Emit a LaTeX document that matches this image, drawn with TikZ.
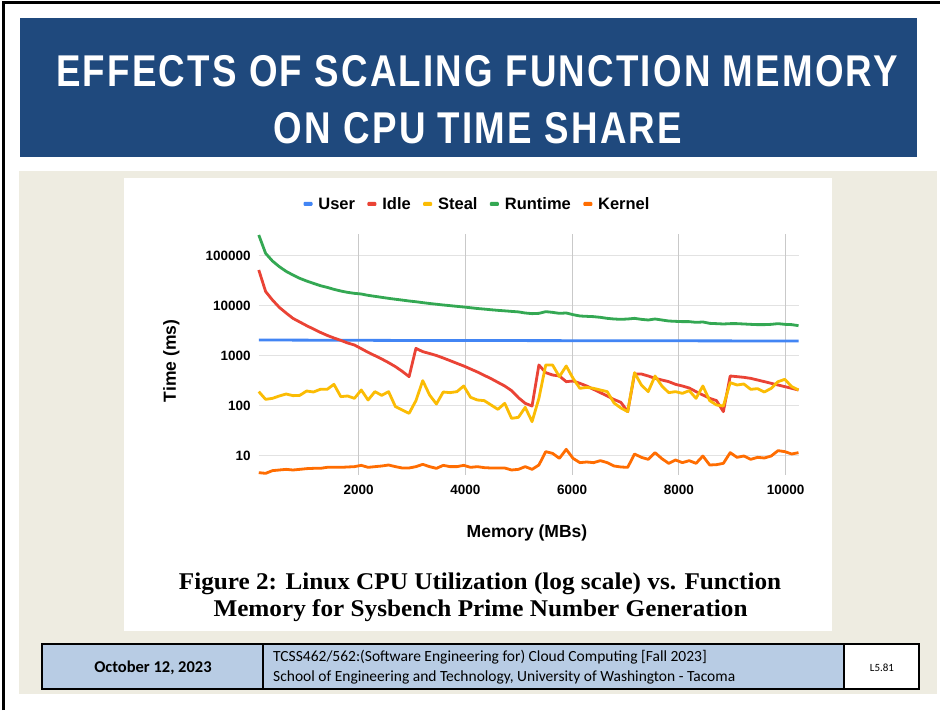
\documentclass[tikz,border=0pt]{standalone}
\usepackage{fontspec}
\usepackage{graphicx}
\usetikzlibrary{positioning}
\newfontfamily\chartfont{Liberation Sans}
\newfontfamily\headfont[LetterSpace=6]{Liberation Sans}
\newfontfamily\capfont{Liberation Serif}
\newfontfamily\footfont{Carlito}

\definecolor{titleblue}{HTML}{1F497D}
\definecolor{slidebeige}{HTML}{EEECE1}
\definecolor{cellblue}{HTML}{B8CCE4}
\definecolor{userblue}{HTML}{4285F4}
\definecolor{idlered}{HTML}{EA4335}
\definecolor{stealyellow}{HTML}{FBBC04}
\definecolor{runtimegreen}{HTML}{34A853}
\definecolor{kernelorange}{HTML}{FF6D01}
\definecolor{gridgray}{HTML}{E2E2E2}

\tikzset{
  series/.style={line width=2.8pt, line join=round},
  legdash/.style={rounded corners=1pt, minimum width=9pt, minimum height=4pt, inner sep=0pt},
  legtext/.style={font=\chartfont\bfseries\fontsize{16.5}{18}\selectfont, inner sep=0pt},
  ticklabel/.style={font=\chartfont\bfseries\fontsize{13.5}{15}\selectfont, inner sep=1pt},
  axistitle/.style={font=\chartfont\bfseries\fontsize{17.5}{19}\selectfont, inner sep=0pt},
  titletext/.style={text=white, font=\headfont\bfseries\fontsize{44.5}{50}\selectfont, inner sep=0pt, anchor=base},
  captext/.style={font=\capfont\bfseries\fontsize{24}{26}\selectfont, inner sep=0pt, anchor=base},
}

\begin{document}
\begin{tikzpicture}[x=1pt,y=1pt]
\useasboundingbox (0,0) rectangle (940,710);
\fill[white] (0,0) rectangle (940,710);

% slide frame and title bar
\draw[black, line width=3pt] (3.5,0) -- (3.5,707) -- (940,707);
\fill[titleblue] (20,553) rectangle (917,692);
\node[titletext] (title1) at (477,623) {\scalebox{0.825}[1]{EFFECTS OF SCALING FUNCTION MEMORY}};
\node[titletext] (title2) at (478,566) {\scalebox{0.825}[1]{ON CPU TIME SHARE}};

% content area
\fill[slidebeige] (19,16) rectangle (937,539);
\fill[white] (124,79) rectangle (832,532);

% legend
\node[legdash, fill=userblue] (duser) at (308,506) {};
\node[legtext, right=5.5pt of duser] (tuser) {User};
\node[legdash, fill=idlered, right=12pt of tuser] (didle) {};
\node[legtext, right=5.5pt of didle] (tidle) {Idle};
\node[legdash, fill=stealyellow, right=12pt of tidle] (dsteal) {};
\node[legtext, right=5.5pt of dsteal] (tsteal) {Steal};
\node[legdash, fill=runtimegreen, right=12pt of tsteal] (druntime) {};
\node[legtext, right=5.5pt of druntime] (truntime) {Runtime};
\node[legdash, fill=kernelorange, right=12pt of truntime] (dkernel) {};
\node[legtext, right=5.5pt of dkernel] (tkernel) {Kernel};

% chart: x in MB, y in log10(ms)
\begin{scope}[shift={(251.95,204.5)}, x=0.053375pt, y=50pt]
\foreach \k in {1,...,5}
  \draw[gridgray, line width=1pt] (128,\k) -- (10240,\k);
\foreach \m in {2000,4000,...,10000}
  \draw[gridgray!75!gray, line width=1pt] (\m,0.61) -- (\m,5.42);

\foreach \k/\t in {1/10,2/100,3/1000,4/10000,5/100000}
  \node[ticklabel, anchor=east] (ylab\k) at (0,\k) {\t};
\foreach \m in {2000,4000,...,10000}
  \node[ticklabel] (xlab\m) at (\m,0.31) {\m};

\node[axistitle] (xtitle) at (5153,-0.55) {Memory (MBs)};
\node[axistitle, rotate=90] (ytitle) at (-1509,2.89) {Time (ms)};

%User
\draw[series, userblue] (128,3.31) -- (2560,3.302) -- (10240,3.29);
%Idle
\draw[series, idlered] (128,4.71) \foreach \v [count=\i from 2] in {4.28,4.11,3.963,3.85,3.743,3.67,3.597,3.53,3.463,
  3.403,3.35,3.303,3.25,3.21,3.137,3.063,2.997,2.93,2.857,
  2.777,2.683,2.577,3.143,3.077,3.04,3.0,2.95,2.897,2.843,
  2.79,2.73,2.67,2.603,2.537,2.463,2.39,2.297,2.157,2.043,
  1.99,2.81,2.657,2.61,2.59,2.477,2.49,2.443,2.39,2.323,
  2.257,2.19,2.12,2.063,1.877,2.63,2.63,2.59,2.543,2.51,
  2.477,2.423,2.39,2.35,2.277,2.21,2.143,2.097,1.877,2.59,
  2.577,2.563,2.543,2.51,2.477,2.443,2.41,2.377,2.343,2.31} { -- (\i*128,\v) };
%Steal
\draw[series, stealyellow] (128,2.277) \foreach \v [count=\i from 2] in {2.123,2.143,2.19,2.23,2.197,2.203,2.29,2.27,2.323,
  2.323,2.423,2.177,2.19,2.143,2.31,2.11,2.277,2.203,2.277,
  1.977,1.91,1.843,2.097,2.497,2.21,2.03,2.27,2.257,2.277,
  2.39,2.163,2.11,2.097,2.01,1.923,2.043,1.743,1.763,1.963,
  1.677,2.143,2.81,2.81,2.577,2.79,2.543,2.343,2.363,2.343,
  2.31,2.277,2.05,1.95,1.877,2.657,2.41,2.277,2.59,2.39,
  2.257,2.277,2.243,2.297,2.143,2.39,2.097,2.01,1.99,2.457,
  2.41,2.43,2.323,2.337,2.27,2.343,2.477,2.523,2.377,2.31} { -- (\i*128,\v) };
%Runtime
\draw[series, runtimegreen] (128,5.41) \foreach \v [count=\i from 2] in {5.043,4.89,4.777,4.683,4.61,4.543,4.49,4.443,4.397,
  4.363,4.323,4.29,4.263,4.243,4.23,4.203,4.183,4.163,4.143,
  4.125,4.108,4.09,4.075,4.057,4.04,4.025,4.01,3.997,3.983,
  3.97,3.955,3.94,3.928,3.915,3.903,3.893,3.882,3.872,3.85,
  3.837,3.843,3.877,3.863,3.843,3.85,3.817,3.79,3.783,3.777,
  3.763,3.743,3.73,3.723,3.73,3.743,3.723,3.71,3.73,3.71,
  3.69,3.683,3.677,3.677,3.663,3.67,3.643,3.637,3.63,3.637,
  3.637,3.63,3.623,3.617,3.617,3.623,3.637,3.623,3.617,3.597} { -- (\i*128,\v) };
%Kernel
\draw[series, kernelorange] (128,0.657) \foreach \v [count=\i from 2] in {0.643,0.697,0.71,0.723,0.71,0.723,0.737,0.743,0.743,
  0.763,0.763,0.763,0.77,0.777,0.803,0.763,0.777,0.79,0.81,
  0.777,0.75,0.75,0.777,0.823,0.777,0.743,0.803,0.777,0.777,
  0.803,0.763,0.777,0.757,0.75,0.75,0.75,0.71,0.723,0.777,
  0.723,0.81,1.077,1.043,0.943,1.123,0.943,0.857,0.87,0.857,
  0.897,0.857,0.79,0.77,0.763,1.03,0.963,0.923,1.057,0.937,
  0.843,0.91,0.857,0.897,0.843,0.99,0.81,0.817,0.843,1.057,
  0.963,0.99,0.923,0.963,0.95,0.99,1.097,1.077,1.03,1.057} { -- (\i*128,\v) };
\end{scope}

% caption
\node[captext] (cap1) at (480,121) {\scalebox{1.05}[1]{Figure 2: Linux CPU Utilization (log scale) vs. Function}};
\node[captext] (cap2) at (480.5,93.5) {\scalebox{1.05}[1]{Memory for Sysbench Prime Number Generation}};

% footer
\draw[line width=1.2pt, fill=cellblue] (42,21) rectangle (844,66);
\draw[line width=1.2pt] (263,21) -- (263,66);
\draw[line width=1.2pt, fill=white] (844,21) rectangle (919,66);
\node[font=\footfont\bfseries\fontsize{16.5}{18}\selectfont] (date) at (153,42) {October 12, 2023};
\node[font=\footfont\fontsize{15.5}{19.5}\selectfont, align=left, anchor=west, inner sep=0pt] (course) at (273,43) {TCSS462/562:(Software Engineering for) Cloud Computing [Fall 2023]\\School of Engineering and Technology, University of Washington - Tacoma};
\node[font=\footfont\fontsize{11}{13}\selectfont] (slideno) at (882,42) {L5.81};
\end{tikzpicture}
\end{document}
